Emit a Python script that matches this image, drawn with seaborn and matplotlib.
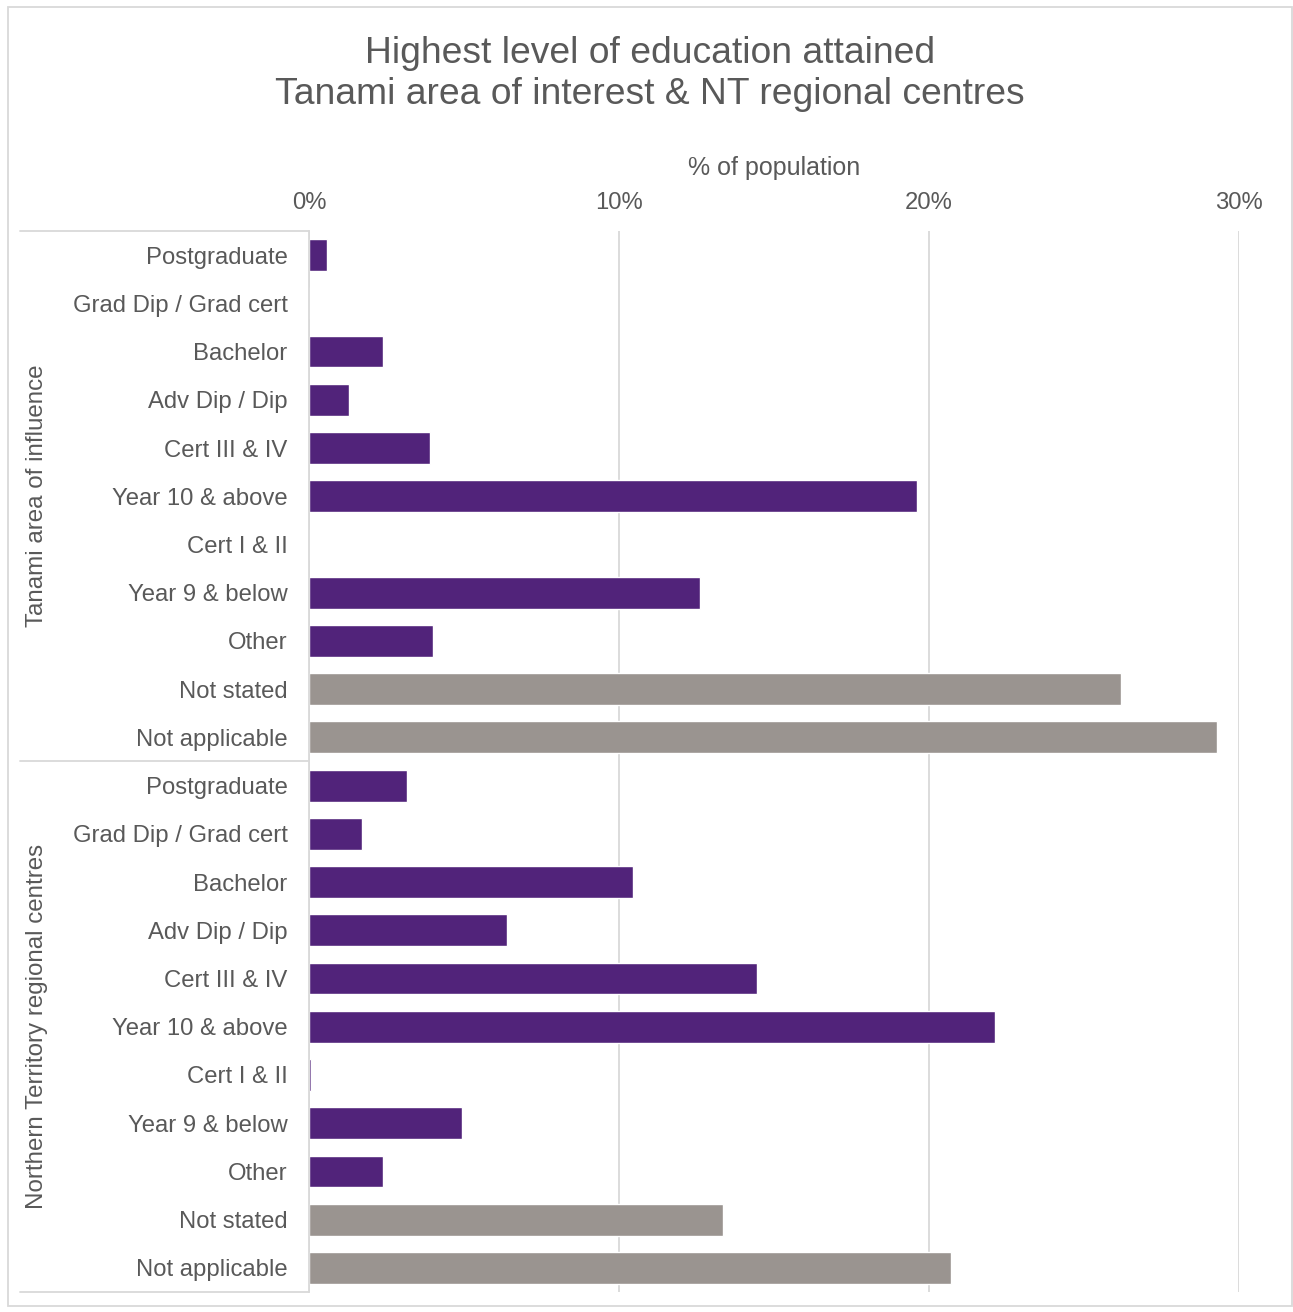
import numpy as np
import pandas as pd
import matplotlib
matplotlib.use("Agg")
import matplotlib.pyplot as plt
from matplotlib.patches import Rectangle
from matplotlib.ticker import PercentFormatter
import seaborn as sns

# data (% of population)
categories = ["Postgraduate", "Grad Dip / Grad cert", "Bachelor", "Adv Dip / Dip",
              "Cert III & IV", "Year 10 & above", "Cert I & II", "Year 9 & below",
              "Other", "Not stated", "Not applicable"]
groups = ["Tanami area of influence", "Northern Territory regional centres"]
tanami = [0.58, 0.0, 2.39, 1.29, 3.90, 19.6, 0.0, 12.6, 4.0, 26.2, 29.3]
nt_regional = [3.16, 1.71, 10.45, 6.39, 14.45, 22.13, 0.06, 4.94, 2.39, 13.35, 20.7]
grey_cats = ["Not stated", "Not applicable"]

purple = "#51237A"
grey = "#9A9490"
text_col = "#595959"
line_col = "#D9D9D9"

rows = []
for g, vals in zip(groups, [tanami, nt_regional]):
    for c, v in zip(categories, vals):
        rows.append({"group": g, "category": c, "key": g + "|" + c, "value": v})
df = pd.DataFrame(rows)
palette = {k: (grey if c in grey_cats else purple) for k, c in zip(df["key"], df["category"])}

sns.set_theme(style="white")
plt.rcParams["font.family"] = ["Liberation Sans", "DejaVu Sans"]

W, H = 1293, 1312
fig = plt.figure(figsize=(W / 100, H / 100), dpi=100)
ax = fig.add_axes([309 / W, 20 / H, 930 / W, 1061 / H])

sns.barplot(data=df, x="value", y="key", hue="key", palette=palette, order=list(df["key"]),
            width=0.66, legend=False, ax=ax, orient="h", saturation=1)

ax.set_xlim(0, 30)
ax.set_ylim(len(df) - 0.5, -0.5)
ax.set_xticks([0, 10, 20, 30])
ax.xaxis.set_major_formatter(PercentFormatter(decimals=0))
ax.xaxis.tick_top()
ax.xaxis.set_label_position("top")
ax.set_xlabel("% of population", fontsize=18, color=text_col, labelpad=12)
ax.set_ylabel("")
ax.set_yticks(range(len(df)))
ax.set_yticklabels(list(df["category"]))
ax.tick_params(axis="x", length=0, labelsize=17.2, labelcolor=text_col, pad=12.5)
ax.tick_params(axis="y", length=0, labelsize=17.2, labelcolor=text_col, pad=15.5)
ax.grid(axis="x", color=line_col, linewidth=1.3)
ax.set_axisbelow(True)
for s in ["top", "right", "bottom"]:
    ax.spines[s].set_visible(False)
ax.spines["left"].set_color(line_col)
ax.spines["left"].set_linewidth(1.3)

# group separators and labels
tr = ax.get_yaxis_transform()
x0 = (20 - 309) / 930
for yy in [-0.5, 10.5, 21.5]:
    ax.plot([x0, 0], [yy, yy], transform=tr, color=line_col, lw=1.3, clip_on=False)
for i, g in enumerate(groups):
    ax.text((37 - 309) / 930, 5 + 11 * i, g, transform=tr, rotation=90, ha="center",
            va="center", fontsize=17.4, color=text_col)

fig.text(650 / W, 1 - 74 / H, "Highest level of education attained\nTanami area of interest & NT regional centres",
         ha="center", va="center", fontsize=26.8, color=text_col, linespacing=1.22)

fig.patches.append(Rectangle((7.5 / W, 6 / H), (1291.5 - 7.5) / W, (1305 - 6) / H,
                             transform=fig.transFigure, fill=False, edgecolor=line_col, lw=1.3))

fig.savefig("out.png", dpi=100)
